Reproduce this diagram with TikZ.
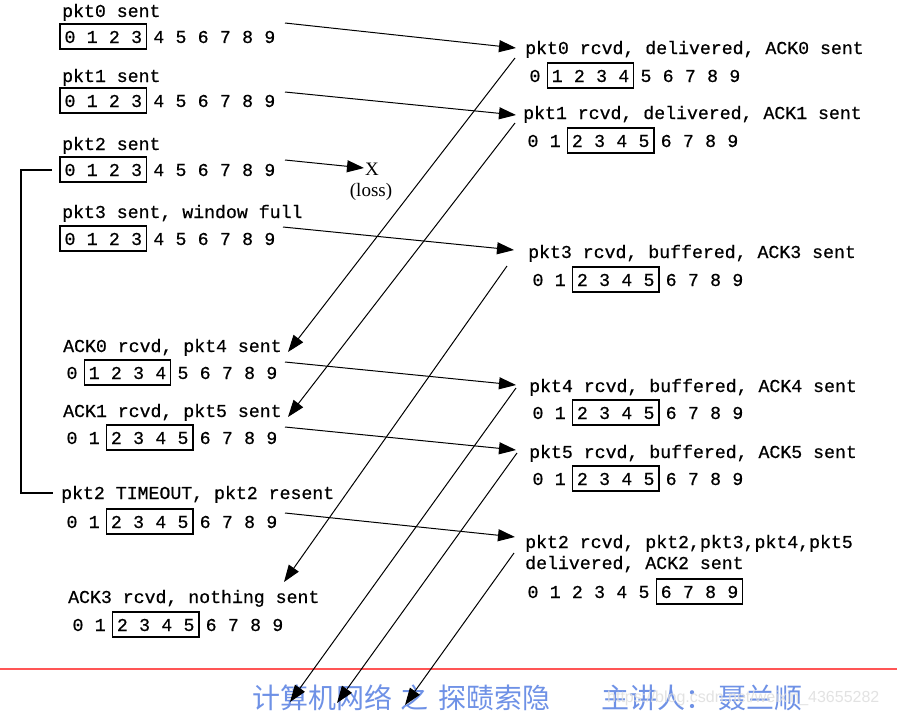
\documentclass[tikz,border=0pt]{standalone}
\usepackage{fontspec}
\setmainfont{Liberation Serif}
\setmonofont[FakeBold=0.6]{Liberation Mono}
\newfontfamily\cjkfont{Noto Sans CJK SC}
\newfontfamily\wmfont{Liberation Sans}
\usetikzlibrary{arrows.meta}
\definecolor{cnblue}{RGB}{110,145,230}
\definecolor{redline}{RGB}{255,85,85}
\definecolor{wmgray}{RGB}{222,222,222}
\newcommand{\drow}[5]{%
  \foreach \i in {0,...,9}{\node[digit] (#1d\i) at ({#2+22.2*\i},#3) {\i};}
  \draw[winbox] ({#2+22.2*#4-10},{#3-13}) rectangle ({#2+22.2*#5+10},{#3+12});
}
\tikzset{
  lbl/.style={anchor=base west, inner sep=0pt, font=\ttfamily\fontsize{18.2}{20}\selectfont},
  digit/.style={inner sep=0pt, font=\ttfamily\fontsize{18.2}{20}\selectfont},
  winbox/.style={draw, line width=1.1pt},
  msg/.style={line width=1pt, -{Triangle[length=17pt,width=12pt]}},
  bracket/.style={line width=1.1pt},
  cjktext/.style={anchor=base west, inner sep=0pt, text=cnblue, font=\cjkfont\fontsize{28}{30}\selectfont},
}
\begin{document}
\begin{tikzpicture}[x=1pt,y=-1pt]
\useasboundingbox (0,0) rectangle (897,716);
\fill[white] (0,0) rectangle (897,716);

% ---------- sender side ----------
\node[lbl] (s1) at (62,17) {pkt0 sent};
\drow{s1}{70}{37}{0}{3}
\node[lbl] (s2) at (62,82) {pkt1 sent};
\drow{s2}{70}{101}{0}{3}
\node[lbl] (s3) at (62,150) {pkt2 sent};
\drow{s3}{70}{170}{0}{3}
\node[lbl] (s4) at (62,218) {pkt3 sent, window full};
\drow{s4}{70}{239}{0}{3}
\node[lbl] (s5) at (63,352) {ACK0 rcvd, pkt4 sent};
\drow{s5}{72}{373}{1}{4}
\node[lbl] (s6) at (63,417) {ACK1 rcvd, pkt5 sent};
\drow{s6}{72}{438}{2}{5}
\node[lbl] (s7) at (61,499) {pkt2 TIMEOUT, pkt2 resent};
\drow{s7}{72}{522}{2}{5}
\node[lbl] (s8) at (68,603) {ACK3 rcvd, nothing sent};
\drow{s8}{78}{625}{2}{5}

% ---------- receiver side ----------
\node[lbl] (r0) at (525,54) {pkt0 rcvd, delivered, ACK0 sent};
\drow{r0}{535}{76}{1}{4}
\node[lbl] (r1) at (523,119) {pkt1 rcvd, delivered, ACK1 sent};
\drow{r1}{533}{141}{2}{5}
\node[lbl] (r3) at (528,258) {pkt3 rcvd, buffered, ACK3 sent};
\drow{r3}{538}{280}{2}{5}
\node[lbl] (r4) at (529,392) {pkt4 rcvd, buffered, ACK4 sent};
\drow{r4}{538}{413}{2}{5}
\node[lbl] (r5) at (529,458) {pkt5 rcvd, buffered, ACK5 sent};
\drow{r5}{538}{479}{2}{5}
\node[lbl] (r2a) at (525,548) {pkt2 rcvd, pkt2,pkt3,pkt4,pkt5};
\node[lbl] (r2b) at (525,569) {delivered, ACK2 sent};
\drow{r2}{533}{592}{6}{9}

% ---------- loss ----------
\node[inner sep=0pt, font=\rmfamily\fontsize{19}{20}\selectfont] (x) at (372,169) {X};
\node[inner sep=0pt, font=\rmfamily\fontsize{19}{20}\selectfont] (loss) at (371,192) {(loss)};

% ---------- timeout bracket ----------
\coordinate (b1) at (52,170);
\coordinate (b2) at (53,493);
\draw[bracket] (b1) -- (21,170) -- (21,493) -- (b2);

% ---------- footer ----------
\draw[redline, line width=2pt] (0,669) -- (897,669);
\node[cjktext] (f1) at (252,708) {计算机网络};
\node[cjktext] (f2) at (400,708) {之};
\node[cjktext] (f3) at (438,708) {探赜索隐};
\node[cjktext] (f4) at (601,708) {主讲人：};
\node[cjktext] (f5) at (718,708) {聂兰顺};
\node[anchor=west, inner sep=0pt, text=wmgray, opacity=0.85, font=\wmfont\fontsize{16}{18}\selectfont] (wm) at (607,698) {https://blog.csdn.net/weixin\_43655282};

% ---------- data packets ----------
\coordinate (d0s) at (285,23);  \coordinate (d0e) at (516,48);
\coordinate (d1s) at (285,92);  \coordinate (d1e) at (516,115);
\coordinate (d2s) at (285,160); \coordinate (d2e) at (364,168);
\coordinate (d3s) at (283,227); \coordinate (d3e) at (514,250);
\coordinate (d4s) at (285,362); \coordinate (d4e) at (516,385);
\coordinate (d5s) at (285,427); \coordinate (d5e) at (516,450);
\coordinate (d6s) at (285,513); \coordinate (d6e) at (515,537);
\draw[msg] (d0s) -- (d0e);
\draw[msg] (d1s) -- (d1e);
\draw[msg] (d2s) -- (d2e);
\draw[msg] (d3s) -- (d3e);
\draw[msg] (d4s) -- (d4e);
\draw[msg] (d5s) -- (d5e);
\draw[msg] (d6s) -- (d6e);

% ---------- ACKs ----------
\coordinate (a0s) at (515,58);  \coordinate (a0e) at (288,352);
\coordinate (a1s) at (515,123); \coordinate (a1e) at (288,417);
\coordinate (a3s) at (507,266); \coordinate (a3e) at (284,582);
\coordinate (a4s) at (516,388); \coordinate (a4e) at (290,702);
\coordinate (a5s) at (517,453); \coordinate (a5e) at (337,703);
\coordinate (a2s) at (514,553); \coordinate (a2e) at (405,705);
\draw[msg] (a0s) -- (a0e);
\draw[msg] (a1s) -- (a1e);
\draw[msg] (a3s) -- (a3e);
\draw[msg] (a4s) -- (a4e);
\draw[msg] (a5s) -- (a5e);
\draw[msg] (a2s) -- (a2e);
\end{tikzpicture}
\end{document}
